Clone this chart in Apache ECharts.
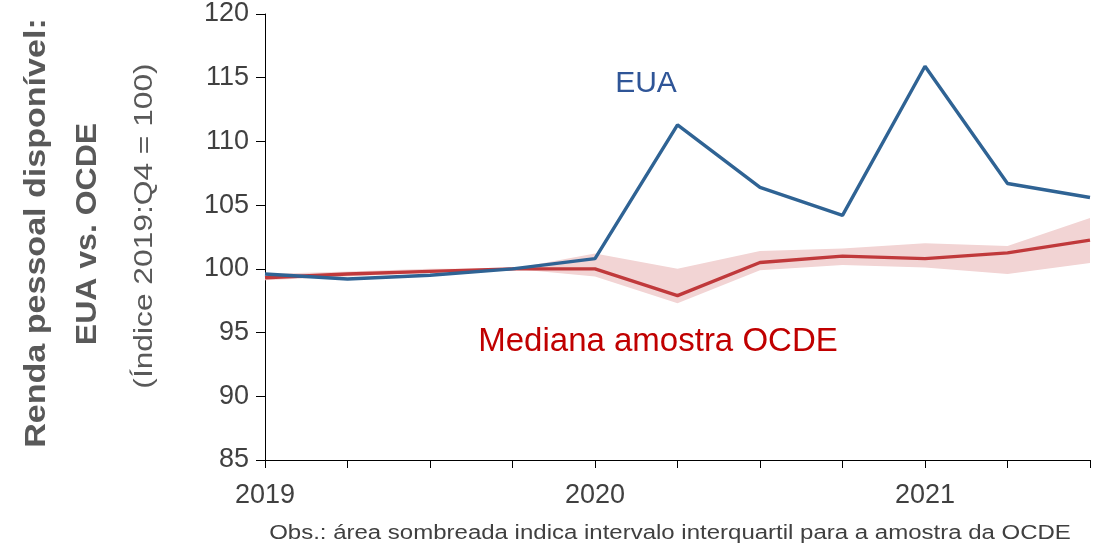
<!DOCTYPE html>
<html>
<head>
<meta charset="utf-8">
<script src="https://cdn.jsdelivr.net/npm/echarts@6/dist/echarts.min.js"></script>
<style>
html,body{margin:0;padding:0;background:#fff;}
#c{width:1099px;height:548px;}
</style>
</head>
<body>
<div id="c"></div>
<script>
var quarters = ['2019T1','2019T2','2019T3','2019T4','2020T1','2020T2','2020T3','2020T4','2021T1','2021T2','2021T3'];
var yearLabels = {'2019T1':'2019','2020T1':'2020','2021T1':'2021'};
var eua = [99.6, 99.2, 99.5, 100.0, 100.8, 111.3, 106.4, 104.2, 115.9, 106.7, 105.6];
var ocdeMedian = [99.3, 99.6, 99.8, 100.0, 100.0, 97.9, 100.5, 101.0, 100.8, 101.25, 102.25];
var ocdeLower = [99.1, 99.4, 99.7, 100.0, 99.4, 97.3, 99.9, 100.3, 100.1, 99.6, 100.45];
var ocdeUpper = [99.6, 99.8, 100.0, 100.0, 101.2, 100.0, 101.4, 101.6, 102.0, 101.8, 104.0];
var yTicks = {min: 85, max: 120, interval: 5};

var bandSpan = ocdeUpper.map(function(u, i){ return +(u - ocdeLower[i]).toFixed(3); });

var chart = echarts.init(document.getElementById('c'), null, {renderer:'canvas'});
var axisFont = 'Liberation Sans';
chart.setOption({
  animation: false,
  backgroundColor: '#ffffff',
  grid: {left: 265, right: 9, top: 14, bottom: 88, containLabel: false},
  xAxis: {
    type: 'category',
    data: quarters,
    boundaryGap: false,
    axisLine: {lineStyle: {color: '#000', width: 1}},
    axisTick: {show: true, interval: 0, length: 8, inside: false, lineStyle: {color: '#000'}},
    axisLabel: {
      interval: 0, margin: 22, color: '#404040', fontSize: 27, fontFamily: axisFont,
      formatter: function(v){ return yearLabels[v] || ''; }
    },
    splitLine: {show: false}
  },
  yAxis: {
    type: 'value',
    min: yTicks.min, max: yTicks.max, interval: yTicks.interval,
    axisLine: {show: true, lineStyle: {color: '#000', width: 1}},
    axisTick: {show: true, length: 9, lineStyle: {color: '#000'}},
    axisLabel: {color: '#404040', fontSize: 27, fontFamily: axisFont, margin: 16},
    splitLine: {show: false}
  },
  series: [
    {
      name: 'lower', type: 'line', data: ocdeLower, stack: 'band', symbol: 'none',
      lineStyle: {opacity: 0}, silent: true, z: 1
    },
    {
      name: 'band', type: 'line', data: bandSpan, stack: 'band', symbol: 'none',
      lineStyle: {opacity: 0}, areaStyle: {color: '#f2d4d4', opacity: 1}, silent: true, z: 1
    },
    {
      name: 'Mediana amostra OCDE', type: 'line', data: ocdeMedian, symbol: 'none',
      lineStyle: {color: '#c0393b', width: 3.4}, z: 3
    },
    {
      name: 'EUA', type: 'line', data: eua, symbol: 'none',
      lineStyle: {color: '#2f6394', width: 3.4}, z: 4
    }
  ],
  graphic: [
    {type: 'text', rotation: Math.PI/2, scaleX: 1.135, scaleY: 1,
      style: {text: 'Renda pessoal disponível:', font: 'bold 30px "Liberation Sans"', fill: '#595959', textAlign: 'center', textVerticalAlign: 'middle'},
      x: 37, y: 233},
    {type: 'text', rotation: Math.PI/2, scaleX: 1.067, scaleY: 1,
      style: {text: 'EUA vs. OCDE', font: 'bold 30px "Liberation Sans"', fill: '#595959', textAlign: 'center', textVerticalAlign: 'middle'},
      x: 88, y: 234},
    {type: 'text', rotation: Math.PI/2, scaleX: 1.22, scaleY: 1,
      style: {text: '(Índice 2019:Q4 = 100)', font: '26px "Liberation Sans"', fill: '#595959', textAlign: 'center', textVerticalAlign: 'middle'},
      x: 145, y: 226},
    {type: 'text',
      style: {text: 'EUA', font: '30px "Liberation Sans"', fill: '#2f5597', textAlign: 'center', textVerticalAlign: 'middle'},
      x: 646, y: 84},
    {type: 'text',
      style: {text: 'Mediana amostra OCDE', font: '33px "Liberation Sans"', fill: '#c00000', textAlign: 'center', textVerticalAlign: 'middle'},
      x: 658, y: 342},
    {type: 'text', scaleX: 1.2, scaleY: 1,
      style: {text: 'Obs.: área sombreada indica intervalo interquartil para a amostra da OCDE', font: '20px "Liberation Sans"', fill: '#404040', textAlign: 'center', textVerticalAlign: 'middle'},
      x: 670, y: 533}
  ]
});
</script>
</body>
</html>
